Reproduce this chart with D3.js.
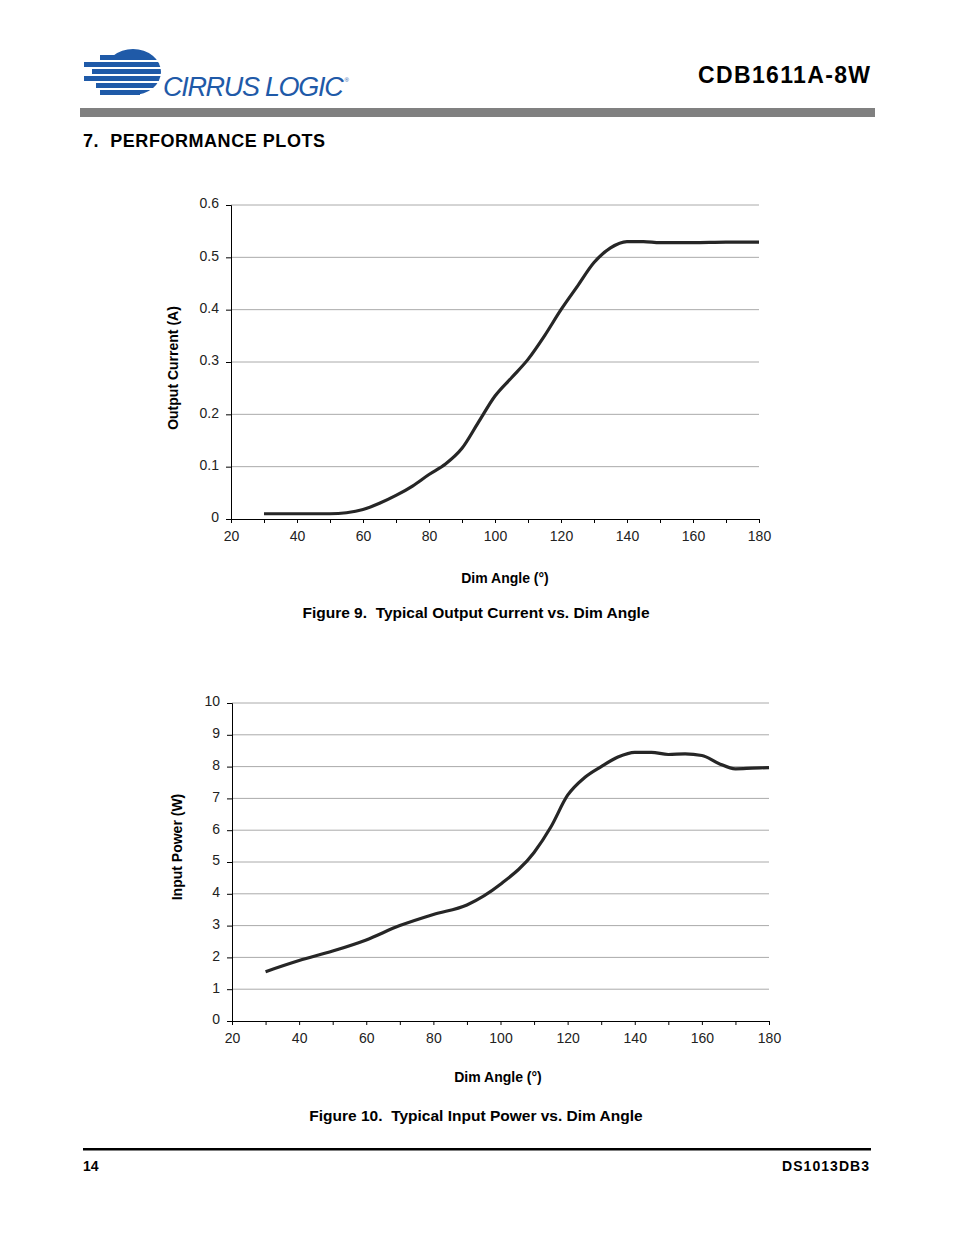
<!DOCTYPE html><html><head><meta charset="utf-8">
<script src="https://cdn.jsdelivr.net/npm/d3@7/dist/d3.min.js"></script>
<style>body{margin:0;background:#fff}svg{font-family:Arial,"Liberation Sans",sans-serif}</style></head><body>
<svg id="s" width="954" height="1235"></svg>
<script>
const dimAngle1=[30,40,50,55,60,65,70,75,80,85,90,95,100,105,110,115,120,125,130,135,140,145,150,160,170,180];
const current=[0.01,0.01,0.01,0.012,0.018,0.03,0.045,0.063,0.085,0.105,0.135,0.185,0.235,0.27,0.305,0.35,0.4,0.445,0.49,0.518,0.53,0.53,0.528,0.528,0.529,0.529];
const dimAngle2=[30,40,50,60,70,80,90,100,110,115,120,125,130,135,140,145,150,155,160,165,170,175,180];
const power=[1.55,1.9,2.2,2.55,3.0,3.35,3.65,4.3,5.3,6.1,7.1,7.65,8.0,8.3,8.45,8.45,8.38,8.4,8.35,8.1,7.93,7.95,7.97];
const xTicks=[20,40,60,80,100,120,140,160,180];
const yTicks1=[0,0.1,0.2,0.3,0.4,0.5,0.6];
const yTicks2=[0,1,2,3,4,5,6,7,8,9,10];

const svg=d3.select("#s");
const lg=svg.append("g");
const blue="#1f5aa8";
lg.append("ellipse").attr("cx",133).attr("cy",72).attr("rx",28).attr("ry",23).attr("fill",blue);
[[55,100],[62,84],[69,92],[76,84],[83,96],[90,100]].forEach(r=>{
  lg.append("rect").attr("x",r[1]).attr("y",r[0]).attr("width",140-r[1]).attr("height",5).attr("fill",blue);
});
[60,67,74,81,88].forEach(y=>lg.append("rect").attr("x",80).attr("y",y).attr("width",85).attr("height",2).attr("fill","#fff"));
const lt=lg.append("text").attr("x",163).attr("y",96).attr("font-size",27).attr("font-style","italic").attr("fill",blue).attr("letter-spacing",-1.3);
lt.append("tspan").text("CIRRUS LOGIC");
lt.append("tspan").attr("font-size",6).attr("font-style","normal").attr("dy",-14).attr("dx",2).text("®");
svg.append("text").attr("x",870).attr("y",83).attr("text-anchor","end").attr("font-size",23).attr("font-weight","bold").attr("textLength",172).text("CDB1611A-8W");
svg.append("rect").attr("x",80).attr("y",108).attr("width",795).attr("height",9).attr("fill","#808080");
svg.append("text").attr("x",83).attr("y",147).attr("font-size",18).attr("font-weight","bold").attr("textLength",242).text("7.\u00a0\u00a0PERFORMANCE PLOTS");
svg.append("rect").attr("x",83).attr("y",1148).attr("width",788).attr("height",2.5).attr("fill","#000");
svg.append("text").attr("x",83).attr("y",1171).attr("font-size",14).attr("font-weight","bold").text("14");
svg.append("text").attr("x",869).attr("y",1171).attr("text-anchor","end").attr("font-size",14).attr("font-weight","bold").attr("textLength",87).text("DS1013DB3");

function chart(o){
  const x=d3.scaleLinear().domain([20,180]).range([o.x0,o.x1]);
  const y=d3.scaleLinear().domain(o.yd).range([o.y0,o.y1]);
  const g=svg.append("g");
  o.yt.forEach(t=>{ if(t>0) g.append("line").attr("x1",o.x0).attr("x2",o.x1).attr("y1",y(t)).attr("y2",y(t)).attr("stroke","#aaa").attr("stroke-width",1);});
  const ya=g.append("g").attr("transform",`translate(${o.x0},0)`).call(d3.axisLeft(y).tickValues(o.yt).tickSize(5).tickFormat(o.fmt));
  ya.selectAll("text").attr("font-size",14).attr("fill","#222").attr("x",-12).attr("dy","0.2em");
  const xa=g.append("g").attr("transform",`translate(0,${o.y0})`).call(d3.axisBottom(x).tickValues(d3.range(20,181,10)).tickSize(4).tickFormat(d=>xTicks.includes(d)?d:""));
  xa.selectAll("text").attr("font-size",14).attr("fill","#222").attr("dy","1.05em");
  g.selectAll(".domain").attr("stroke","#000");
  g.append("text").attr("x",o.xlx).attr("y",o.xl).attr("text-anchor","middle").attr("font-size",14).attr("font-weight","bold").text("Dim Angle (°)");
  g.append("text").attr("transform",`translate(${o.yl},${o.ylc}) rotate(-90)`).attr("text-anchor","middle").attr("font-size",14).attr("font-weight","bold").text(o.ylab);
  g.append("text").attr("x",476).attr("y",o.cap).attr("text-anchor","middle").attr("font-size",15.5).attr("font-weight","bold").text(o.title);
  g.append("path").datum(o.xs.map((d,i)=>[d,o.ys[i]])).attr("d",d3.line().x(d=>x(d[0])).y(d=>y(d[1])).curve(d3.curveMonotoneX))
   .attr("fill","none").attr("stroke","#262626").attr("stroke-width",3.2);
}
chart({x0:231,x1:759,y0:519,y1:205,yd:[0,0.6],yt:yTicks1,fmt:d=>d,xs:dimAngle1,ys:current,xl:583,xlx:505,yl:178,ylc:368,cap:618,ylab:"Output Current (A)",title:"Figure 9.\u00a0\u00a0Typical Output Current vs. Dim Angle"});
chart({x0:232,x1:769,y0:1021,y1:703,yd:[0,10],yt:yTicks2,fmt:d=>d,xs:dimAngle2,ys:power,xl:1082,xlx:498,yl:182,ylc:847,cap:1121,ylab:"Input Power (W)",title:"Figure 10.\u00a0\u00a0Typical Input Power vs. Dim Angle"});
</script></body></html>
